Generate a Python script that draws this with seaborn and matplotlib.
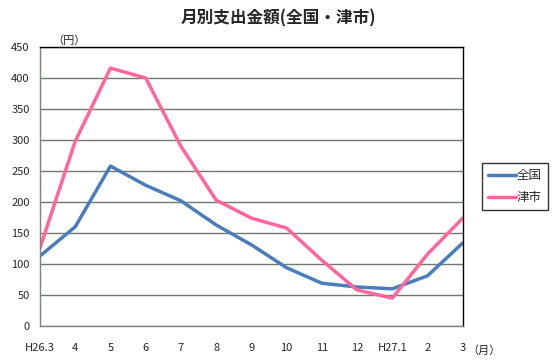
import matplotlib
matplotlib.use("Agg")
import matplotlib.pyplot as plt
import seaborn as sns
import pandas as pd

months = ["H26.3", "4", "5", "6", "7", "8", "9", "10", "11", "12", "H27.1", "2", "3"]
zenkoku = [113, 160, 258, 227, 202, 163, 131, 94, 69, 63, 60, 81, 134]
tsu = [126, 298, 416, 400, 290, 203, 174, 158, 106, 58, 45, 116, 174]

df = pd.DataFrame({
    "pos": list(range(len(months))) * 2,
    "value": zenkoku + tsu,
    "series": ["全国"] * len(months) + ["津市"] * len(months),
})

sns.set_style("white")
plt.rcParams["font.family"] = ["Noto Sans CJK JP", "DejaVu Sans"]

fig = plt.figure(figsize=(5.57, 3.6), dpi=100)
ax = fig.add_axes([0.0718, 0.0944, 0.759, 0.775])

sns.lineplot(data=df, x="pos", y="value", hue="series",
             palette={"全国": "#4a7ebb", "津市": "#ff6699"},
             linewidth=2.5, ax=ax)

ax.set_xlim(0, len(months) - 1)
ax.set_ylim(0, 450)
ax.set_yticks(range(0, 451, 50))
ax.set_xticks(range(len(months)))
ax.set_xticklabels(months)
ax.tick_params(axis="both", labelsize=8, length=4, color="#808080", direction="out")
ax.tick_params(axis="x", pad=8)
ax.yaxis.grid(True, color="#6f7a6f", linewidth=1)
ax.set_axisbelow(True)
ax.set_xlabel("")
ax.set_ylabel("")

for side in ["top", "right"]:
    ax.spines[side].set_color("black")
    ax.spines[side].set_linewidth(1)
for side in ["left", "bottom"]:
    ax.spines[side].set_color("#808080")
    ax.spines[side].set_linewidth(1)

ax.text(0.03, 1.005, "（円）", transform=ax.transAxes, fontsize=8, ha="left", va="bottom")
ax.text(1.01, -0.07, "（月）", transform=ax.transAxes, fontsize=8, ha="left", va="top")

fig.suptitle("月別支出金額(全国・津市)", x=0.5, y=0.975, fontsize=12, fontweight="bold")

leg = ax.legend(loc="center left", bbox_to_anchor=(1.045, 0.5), frameon=True,
                fontsize=9, handlelength=2.2, handletextpad=0.1, borderpad=0.5,
                labelspacing=0.7, fancybox=False, borderaxespad=0)
leg.get_frame().set_edgecolor("black")
leg.get_frame().set_linewidth(1)

fig.savefig("out.png", dpi=100)
